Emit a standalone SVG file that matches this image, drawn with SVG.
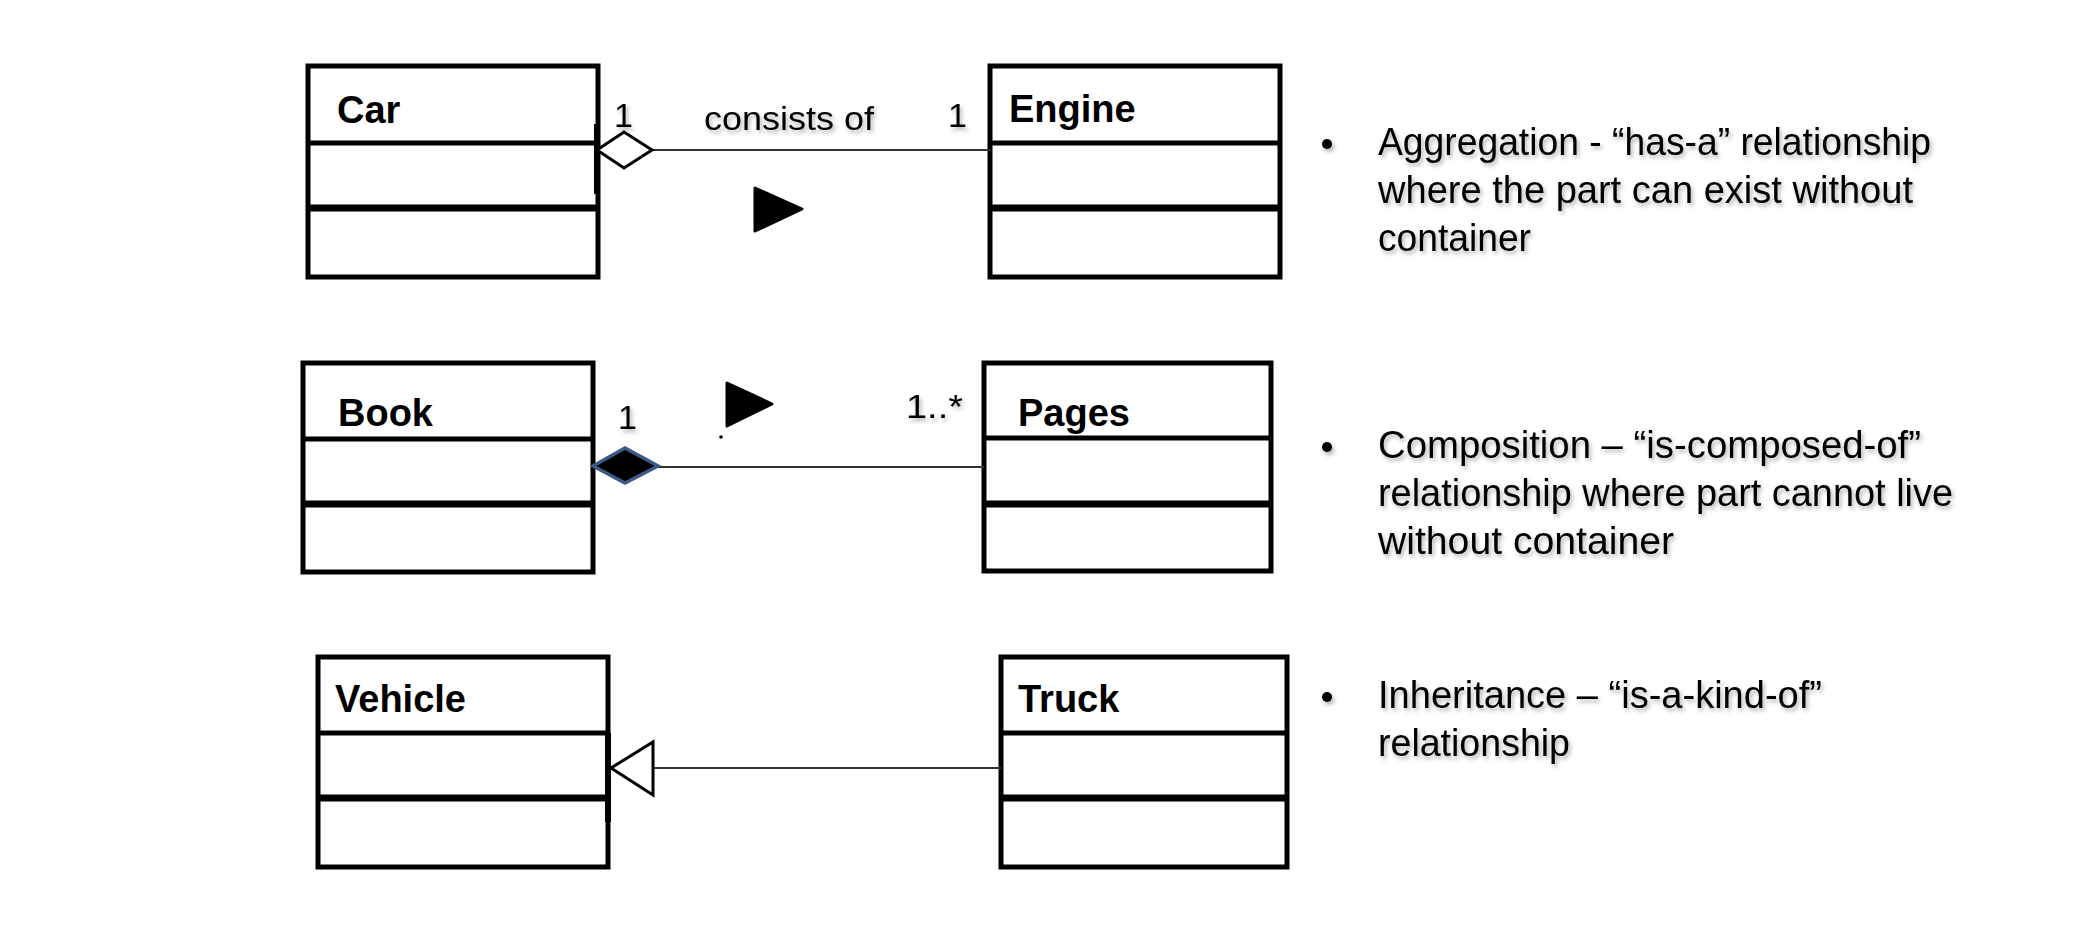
<svg xmlns="http://www.w3.org/2000/svg" width="2092" height="950" viewBox="0 0 2092 950">
<defs>
<style>
.box{fill:#fff;stroke:#000;stroke-width:5}
.div{stroke:#000;stroke-width:5}
.div2{stroke:#000;stroke-width:7}
.name{font-family:"Liberation Sans",Arial,sans-serif;font-weight:bold;font-size:38px;fill:#000}
.lbl{font-family:"Liberation Sans",Arial,sans-serif;font-size:34px;fill:#000}
.desc{font-family:"Liberation Sans",Arial,sans-serif;font-size:38px;fill:#000}
.conn{stroke:#333;stroke-width:2;fill:none}
</style>
<filter id="sh" x="-10%" y="-30%" width="120%" height="160%">
<feDropShadow dx="2" dy="3" stdDeviation="2" flood-color="#000" flood-opacity="0.3"/>
</filter>
</defs>
<rect width="2092" height="950" fill="#fff"/>

<g id="car">
<rect class="box" x="308" y="66" width="290" height="211"/>
<line class="div" x1="308" y1="143" x2="598" y2="143"/>
<line class="div2" x1="308" y1="208" x2="598" y2="208"/>
<line stroke="#000" stroke-width="6" x1="597" y1="124" x2="597" y2="194"/>
<text class="name" x="337" y="123">Car</text>
</g>
<g id="engine">
<rect class="box" x="990" y="66" width="290" height="211"/>
<line class="div" x1="990" y1="143" x2="1280" y2="143"/>
<line class="div2" x1="990" y1="208" x2="1280" y2="208"/>
<text class="name" x="1009" y="122">Engine</text>
</g>
<g id="book">
<rect class="box" x="303" y="363" width="290" height="209"/>
<line class="div" x1="303" y1="439" x2="593" y2="439"/>
<line class="div2" x1="303" y1="504" x2="593" y2="504"/>
<text class="name" x="338" y="426">Book</text>
</g>
<g id="pages">
<rect class="box" x="984" y="363" width="287" height="208"/>
<line class="div" x1="984" y1="438" x2="1271" y2="438"/>
<line class="div2" x1="984" y1="504" x2="1271" y2="504"/>
<text class="name" x="1018" y="426">Pages</text>
</g>
<g id="vehicle">
<rect class="box" x="318" y="657" width="290" height="210"/>
<line class="div" x1="318" y1="733" x2="608" y2="733"/>
<line class="div2" x1="318" y1="798" x2="608" y2="798"/>
<line stroke="#000" stroke-width="6" x1="608" y1="733" x2="608" y2="822"/>
<text class="name" x="335" y="712">Vehicle</text>
</g>
<g id="truck">
<rect class="box" x="1001" y="657" width="286" height="210"/>
<line class="div" x1="1001" y1="733" x2="1287" y2="733"/>
<line class="div2" x1="1001" y1="798" x2="1287" y2="798"/>
<text class="name" x="1018" y="712">Truck</text>
</g>

<g id="connectors">
<line class="conn" x1="652" y1="150" x2="990" y2="150"/>
<polygon points="597,150 624,132 652,150 624,168" fill="#fff" stroke="#000" stroke-width="3"/>
<polygon points="755,188 802,209 755,231" fill="#000" stroke="#000" stroke-width="3" stroke-linejoin="round"/>
<line class="conn" x1="658" y1="467" x2="984" y2="467"/>
<polygon points="593,466 625,448 658,466 625,483" fill="#000" stroke="#3b5a85" stroke-width="3.5"/>
<polygon points="727,383 772,404 727,426" fill="#000" stroke="#000" stroke-width="3" stroke-linejoin="round"/>
<circle cx="721" cy="437" r="1.8" fill="#000"/>
<line class="conn" x1="653" y1="768" x2="1001" y2="768"/>
<polygon points="611,768 653,742 653,795" fill="#fff" stroke="#000" stroke-width="3"/>
</g>

<g id="labels" filter="url(#sh)">
<text class="lbl" x="614" y="127">1</text>
<text class="lbl" x="704" y="130" textLength="170" lengthAdjust="spacingAndGlyphs">consists of</text>
<text class="lbl" x="948" y="127">1</text>
<text class="lbl" x="618" y="429">1</text>
<text class="lbl" x="906" y="418" textLength="57" lengthAdjust="spacingAndGlyphs">1..*</text>
</g>

<g id="notes" filter="url(#sh)">
<circle cx="1327" cy="144" r="5"/>
<text class="desc" x="1378" y="155" textLength="553" lengthAdjust="spacingAndGlyphs">Aggregation - “has-a” relationship</text>
<text class="desc" x="1378" y="203" textLength="535" lengthAdjust="spacingAndGlyphs">where the part can exist without</text>
<text class="desc" x="1378" y="251" textLength="153" lengthAdjust="spacingAndGlyphs">container</text>
<circle cx="1327" cy="447" r="5"/>
<text class="desc" x="1378" y="458" textLength="543" lengthAdjust="spacingAndGlyphs">Composition – “is-composed-of”</text>
<text class="desc" x="1378" y="506" textLength="575" lengthAdjust="spacingAndGlyphs">relationship where part cannot live</text>
<text class="desc" x="1378" y="554" textLength="296" lengthAdjust="spacingAndGlyphs">without container</text>
<circle cx="1327" cy="697" r="5"/>
<text class="desc" x="1378" y="708" textLength="444" lengthAdjust="spacingAndGlyphs">Inheritance – “is-a-kind-of”</text>
<text class="desc" x="1378" y="756" textLength="192" lengthAdjust="spacingAndGlyphs">relationship</text>
</g>
</svg>
